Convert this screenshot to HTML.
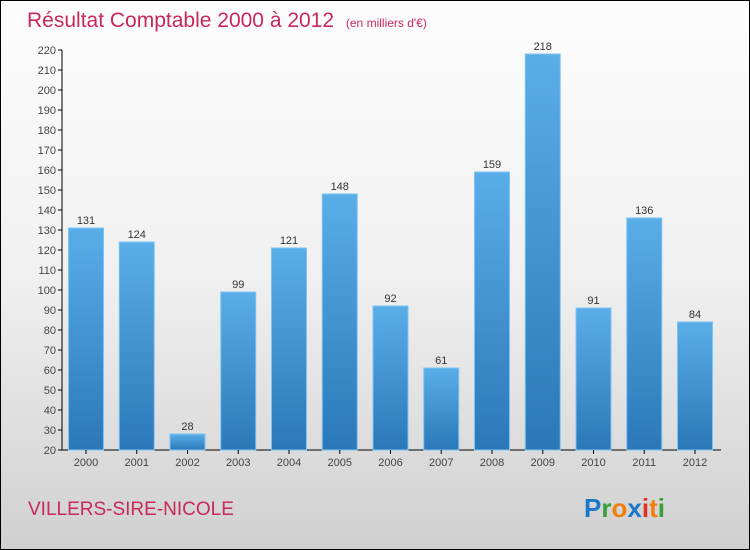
<!DOCTYPE html>
<html><head><meta charset="utf-8"><style>
body{margin:0}
#wrap{position:relative;width:748px;height:548px;border:1px solid #000;background:linear-gradient(#fdfdfd 0%,#f0f0f0 50%,#d0d0d0 100%);overflow:hidden;font-family:"Liberation Sans",sans-serif}
</style></head><body>
<div id="wrap">
<svg width="748" height="548" id="svg">
<defs><linearGradient id="bg" x1="0" y1="0" x2="0" y2="1"><stop offset="0" stop-color="#5aaee8"/><stop offset="1" stop-color="#2a78b8"/></linearGradient></defs>
<text x="26" y="26" font-size="21" fill="#c8285a">Résultat Comptable 2000 à 2012 <tspan font-size="12" dx="6">(en milliers d'€)</tspan></text>
<text x="27" y="514" font-size="19" fill="#c8285a">VILLERS-SIRE-NICOLE</text>
<g font-size="26" font-weight="bold" font-family="Liberation Sans, sans-serif">
<text x="583" y="516"><tspan fill="#1a78c8">P</tspan><tspan fill="#38a038">r</tspan><tspan fill="#f08010">o</tspan><tspan fill="#1a78c8">x</tspan><tspan fill="#e03020">i</tspan><tspan fill="#f08010">t</tspan><tspan fill="#38a038">i</tspan></text></g>
<g id="g"></g>
</svg>
</div>
<script>
const years=["2000","2001","2002","2003","2004","2005","2006","2007","2008","2009","2010","2011","2012"];
const values=[131,124,28,99,121,148,92,61,159,218,91,136,84];
const yTicks=[20,30,40,50,60,70,80,90,100,110,120,130,140,150,160,170,180,190,200,210,220];
const NS="http://www.w3.org/2000/svg";
const g=document.getElementById('g');
const y=v=>449-(v-20)*2;
const x=i=>85+i*50.75;
function mk(t,a,txt){const e=document.createElementNS(NS,t);for(const k in a)e.setAttribute(k,a[k]);if(txt!=null)e.textContent=txt;g.appendChild(e);return e;}
let ax=mk('line',{x1:61,y1:49,x2:61,y2:449,stroke:'#000'});


let bx=mk('line',{x1:61,y1:449,x2:720,y2:449,stroke:'#000'});


yTicks.forEach(v=>{
 let t=mk('line',{x1:57,x2:61,y1:y(v),y2:y(v),stroke:'#000'});
 
 
 let l=mk('text',{x:55,y:y(v)+4,'font-size':11,fill:'#444','text-anchor':'end'},v);
 
 
});
years.forEach((yr,i)=>{
 const v=values[i];
 let r=mk('rect',{x:x(i)-17.5,y:y(v),width:35,height:449-y(v),fill:'url(#bg)',stroke:'#7cc4f4','stroke-width':1});
 
 
 let vl=mk('text',{x:x(i),y:y(v)-4,'font-size':11,fill:'#333','text-anchor':'middle'},v);
 
 
 let tk=mk('line',{x1:x(i),x2:x(i),y1:449,y2:453,stroke:'#000'});
 
 
 let xl=mk('text',{x:x(i),y:465,'font-size':11,fill:'#444','text-anchor':'middle'},yr);
 
 
});
</script>
</body></html>
